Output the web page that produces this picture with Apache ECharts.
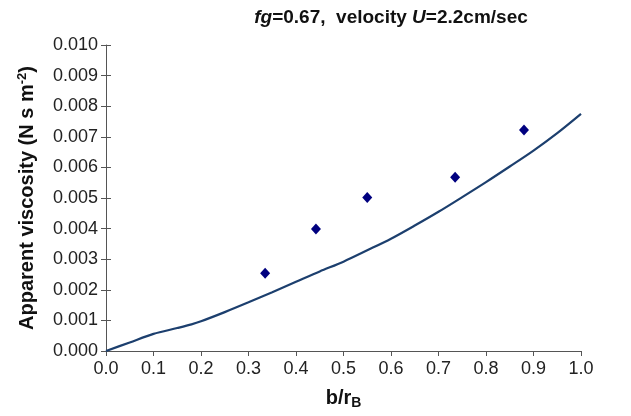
<!DOCTYPE html>
<html>
<head>
<meta charset="utf-8">
<script src="https://cdn.jsdelivr.net/npm/echarts@6/dist/echarts.min.js"></script>
<style>
  html, body { margin: 0; padding: 0; background: #fff; }
  #chart { width: 631px; height: 416px; }
</style>
</head>
<body>
<div id="chart"></div>
<script>
// model curve (b/rB, viscosity)
const curveX = [0, 0.05, 0.1, 0.15, 0.18, 0.2, 0.25, 0.3, 0.35, 0.4, 0.45, 0.5, 0.55, 0.6, 0.65, 0.7, 0.75, 0.8, 0.85, 0.9, 0.95, 1.0];
const curveY = [0, 0.00028, 0.00056, 0.00075, 0.00087, 0.00097, 0.00127, 0.00159, 0.00192, 0.00226, 0.0026, 0.00292, 0.00329, 0.00367, 0.0041, 0.00455, 0.00503, 0.00552, 0.00603, 0.00655, 0.00712, 0.00775];
// measured points
const measX = [0.335, 0.442, 0.55, 0.735, 0.88];
const measY = [0.00254, 0.00399, 0.00502, 0.00568, 0.00722];

const axisColor = '#555';
const font = 'Liberation Sans, Arial, sans-serif';

const chart = echarts.init(document.getElementById('chart'));

const tickAxisX = (extra) => Object.assign({
  type: 'value', min: 0, max: 1, interval: 0.1,
  axisLine: {lineStyle: {color: axisColor, width: 1}},
  splitLine: {show: false}
}, extra);
const tickAxisY = (extra) => Object.assign({
  type: 'value', min: 0, max: 0.01, interval: 0.001,
  axisLine: {lineStyle: {color: axisColor, width: 1}},
  splitLine: {show: false}
}, extra);

chart.setOption({
  animation: false,
  title: {
    text: '{i|fg}{b|=0.67,  velocity }{i|U}{b|=2.2cm/sec}',
    left: 386, top: 3, textAlign: 'center',
    textStyle: {
      rich: {
        i: {fontFamily: font, fontSize: 19, fontWeight: 'bold', fontStyle: 'italic', color: '#111'},
        b: {fontFamily: font, fontSize: 19, fontWeight: 'bold', color: '#111'}
      }
    }
  },
  grid: {left: 106, right: 50, top: 45, bottom: 65},
  xAxis: [
    tickAxisX({
      axisTick: {show: true, length: 5, lineStyle: {color: axisColor}},
      axisLabel: {fontFamily: font, fontSize: 18, color: '#222', margin: 9,
        formatter: v => v.toFixed(1)},
      name: '{b|b/r}{s|B}',
      nameLocation: 'middle', nameGap: 36,
      nameTextStyle: {rich: {
        b: {fontFamily: font, fontSize: 20, fontWeight: 'bold', color: '#111'},
        s: {fontFamily: font, fontSize: 14, fontWeight: 'bold', color: '#111', verticalAlign: 'bottom', padding: [9, 0, 0, 0]}
      }}
    }),
    tickAxisX({
      axisTick: {show: true, inside: true, length: 5, lineStyle: {color: axisColor}},
      axisLabel: {show: false}, axisLine: {show: false}
    })
  ],
  yAxis: [
    tickAxisY({
      axisTick: {show: true, length: 5, lineStyle: {color: axisColor}},
      axisLabel: {fontFamily: font, fontSize: 18, color: '#222', margin: 8,
        formatter: v => v.toFixed(3)},
      name: '{b|Apparent viscosity (N s m}{s|-2}{b|)}',
      nameLocation: 'middle', nameGap: 68, nameRotate: 90,
      nameTextStyle: {rich: {
        b: {fontFamily: font, fontSize: 20, fontWeight: 'bold', color: '#111'},
        s: {fontFamily: font, fontSize: 13, fontWeight: 'bold', color: '#111', verticalAlign: 'top', padding: [0, 0, 9, 0]}
      }}
    }),
    tickAxisY({
      axisTick: {show: true, inside: true, length: 5, lineStyle: {color: axisColor}},
      axisLabel: {show: false}, axisLine: {show: false}, position: 'left'
    })
  ],
  series: [
    {
      type: 'line',
      data: curveX.map((x, i) => [x, curveY[i]]),
      showSymbol: false, smooth: 0.3,
      lineStyle: {color: '#1c3f6e', width: 2.2},
      z: 2
    },
    {
      type: 'scatter',
      data: measX.map((x, i) => [x, measY[i]]),
      symbol: 'diamond', symbolSize: [10, 11],
      itemStyle: {color: '#00007f', opacity: 1},
      z: 3
    }
  ]
});
</script>
</body>
</html>
